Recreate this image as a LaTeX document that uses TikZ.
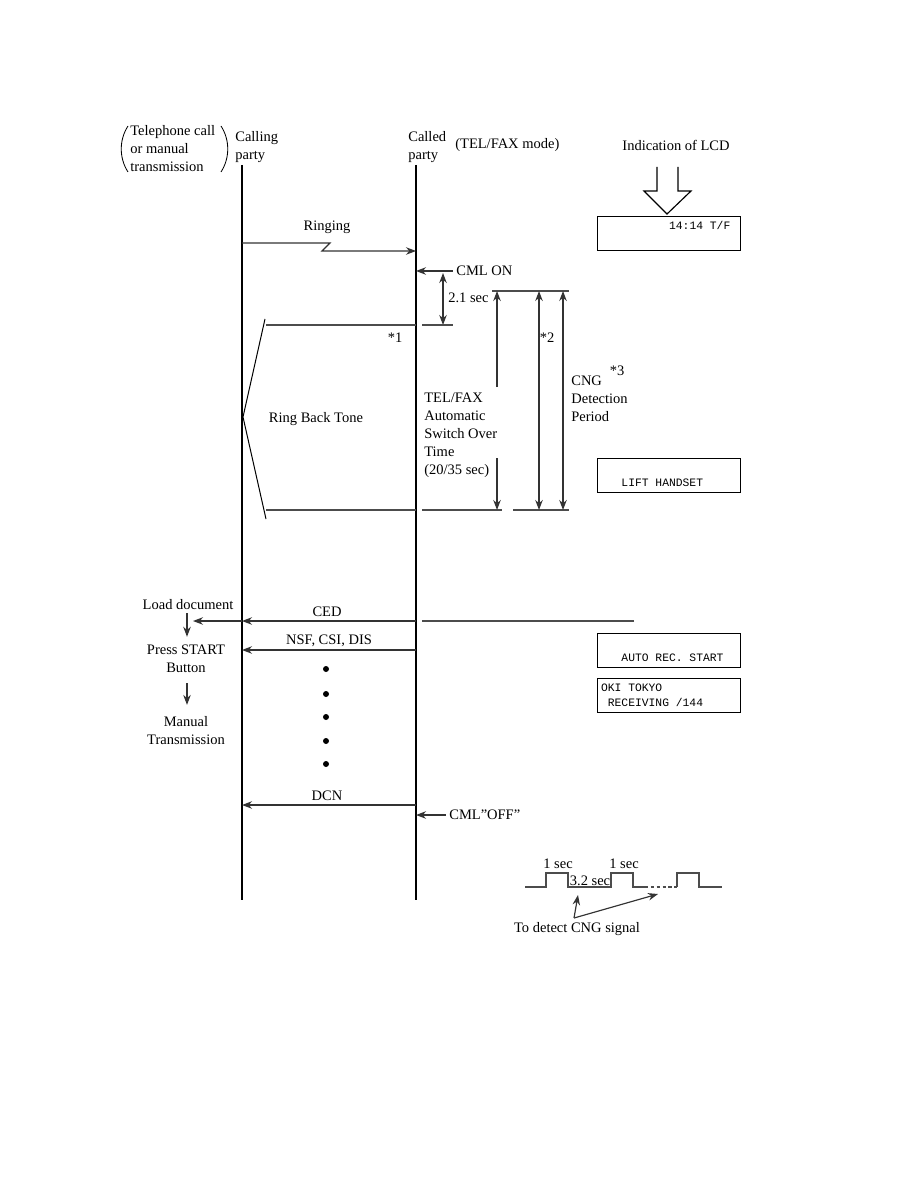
\documentclass[tikz,border=0pt]{standalone}
\usepackage{fontspec}
\setmainfont{Liberation Serif}
\setmonofont{Liberation Mono}
\usetikzlibrary{arrows.meta, positioning, calc}
\newcommand{\lcdsp}{\phantom{0}}

\begin{document}
\begin{tikzpicture}[
        x=0.6pt, y=-0.6pt,
        txt/.style={inner sep=0pt, font=\fontsize{8.7}{10.8}\selectfont},
        life/.style={line width=0.8pt},
        msg/.style={-{Stealth[length=6pt, width=4.5pt]}, line width=0.7pt, draw=black!80},
        span/.style={{Stealth[length=6pt, width=4.5pt]}-{Stealth[length=6pt, width=4.5pt]}, line width=0.7pt, draw=black!80},
        tick/.style={line width=0.7pt, draw=black!70},
        lcd/.style={draw, line width=0.7pt, anchor=north west, align=left, inner xsep=2.1pt, inner ysep=1.2pt, text width=81.6pt, font=\fontsize{6.8}{9}\selectfont\ttfamily}
    ]
    \useasboundingbox (0,0) rectangle (918,1188);

    % Headings
    \node[txt, anchor=west, align=left] (origin) at (130,149) {Telephone call\\or manual\\transmission};
    \draw[line width=0.5pt] (128,126) .. controls (119,140) and (119,158) .. (128,172);
    \draw[line width=0.5pt] (221,126) .. controls (230,140) and (230,158) .. (221,172);
    \node[txt, anchor=west, align=left] (callinghead) at (235,147) {Calling\\party};
    \node[txt, anchor=west, align=left] (calledhead) at (408,147) {Called\\party};
    \node[txt, anchor=west] (mode) at (455,145) {(TEL/FAX mode)};
    \node[txt] (lcdhead) at (676,145) {Indication of LCD};

    % Hollow arrow down to the display
    \draw[line width=0.7pt] (657,167) -- (657,191) -- (644,191) -- (667,214) -- (691,191) -- (678,191) -- (678,167);

    % Lifelines
    \coordinate (calling) at (242,165);
    \coordinate (calling-end) at (242,900);
    \coordinate (called) at (416,165);
    \coordinate (called-end) at (416,900);
    \draw[life] (calling) -- (calling-end);
    \draw[life] (called) -- (called-end);

    % Ringing
    \node[txt] (ringing) at (327,227) {Ringing};
    \draw[msg] (calling |- 0,243) -- (330,243) -- (322,251) -- (called |- 0,251);

    % CML ON and 2.1 sec
    \node[txt, anchor=west] (cmlon) at (456,271) {CML ON};
    \draw[msg] ([xshift=-2pt]cmlon.west) -- (called |- cmlon);
    \coordinate (on-top) at (443,273);
    \coordinate (on-bot) at (443,325);
    \draw[span] (on-top) -- (on-bot);
    \node[txt, anchor=west] (t21) at (448,298) {2.1 sec};

    % Ring back tone
    \draw[tick] (266,325) -- (called |- 0,325);
    \draw[tick] (422,325) -- (453,325);
    \draw[tick] (266,510) -- (called |- 0,510);
    \draw[tick] (422,510) -- (502,510);
    \draw[tick] (513,510) -- (569,510);
    \draw[tick] (492,291) -- (569,291);
    \draw[line width=0.6pt] (265,319) -- (243,417) -- (266,519);
    \node[txt] (rbt) at (316,419) {Ring Back Tone};
    \node[txt] (note1) at (395,338) {*1};

    % Switch over time and CNG detection
    \coordinate (sw-top) at (497,291);
    \coordinate (sw-bot) at (497,510);
    \draw[msg] (497,387) -- (sw-top);
    \draw[msg] (497,458) -- (sw-bot);
    \node[txt, anchor=west, align=left] (swtime) at (424,435) {TEL/FAX\\Automatic\\Switch Over\\Time\\(20/35 sec)};
    \coordinate (n2-top) at (539,291);
    \coordinate (n2-bot) at (539,510);
    \draw[span] (n2-top) -- (n2-bot);
    \node[txt] (note2) at (547,338) {*2};
    \coordinate (cng-top) at (563,291);
    \coordinate (cng-bot) at (563,510);
    \draw[span] (cng-top) -- (cng-bot);
    \node[txt, anchor=west, align=left] (cngdet) at (571,399) {CNG\\Detection\\Period};
    \node[txt] (note3) at (617,371) {*3};

    % LCD indications
    \node[lcd] (lcdclock) at (597,216) {\strut\phantom{0000000000}14:14\lcdsp T/F\\\strut};
    \node[lcd] (lcdlift) at (597,458) {\strut\\\strut\phantom{000}LIFT\lcdsp HANDSET};
    \node[lcd] (lcdauto) at (597,633) {\strut\\\strut\phantom{000}AUTO\lcdsp REC.\lcdsp START};
    \node[lcd] (lcdrecv) at (597,678) {\strut OKI\lcdsp TOKYO\\\strut\phantom{0}RECEIVING\lcdsp /144};

    % CED
    \node[txt] (ced) at (327,612) {CED};
    \draw[tick] (634,621) -- (422,621);
    \draw[msg] (called |- 0,621) -- (calling |- 0,621);
    \node[txt] (load) at (188,605) {Load document};
    \draw[msg] (calling |- 0,621) -- (193,621);
    \node[txt, align=center] (press) at (186,659) {Press START\\Button};
    \node[txt, align=center] (manual) at (186,731) {Manual\\Transmission};
    \draw[msg] ([yshift=-1.8pt]load.south -| 187,0) -- ([yshift=4.8pt]press.north -| 187,0);
    \draw[msg] ([yshift=-6pt]press.south -| 187,0) -- ([yshift=7pt]manual.north -| 187,0);

    % NSF, CSI, DIS
    \node[txt] (nsf) at (329,641) {NSF, CSI, DIS};
    \draw[msg] (called |- 0,650) -- (calling |- 0,650);
    \foreach \y in {669,694,717,741,764}
        \fill (326,\y) circle (1.8pt);

    % DCN
    \node[txt] (dcn) at (327,796) {DCN};
    \draw[msg] (called |- 0,805) -- (calling |- 0,805);
    \node[txt, anchor=west] (cmloff) at (449,815) {CML"OFF"};
    \draw[msg] ([xshift=-2pt]cmloff.west) -- (called |- cmloff);

    % CNG signal
    \draw[tick] (525,887) -- (546,887) -- (546,873) -- (568,873) -- (568,887) -- (611,887) -- (611,873) -- (633,873) -- (633,887) -- (645,887);
    \draw[tick, dash pattern=on 2pt off 1.5pt] (645,887) -- (677,887);
    \draw[tick] (677,887) -- (677,873) -- (699,873) -- (699,887) -- (722,887);
    \node[txt] (sec1) at (558,864) {1 sec};
    \node[txt] (sec2) at (624,864) {1 sec};
    \node[txt] (gap) at (590,881) {3.2 sec};
    \node[txt] (cngnote) at (577,929) {To detect CNG signal};
    \coordinate (notetip) at (574,918);
    \draw[msg] (notetip) -- (578,895);
    \draw[msg] (notetip) -- (658,894);
\end{tikzpicture}
\end{document}
